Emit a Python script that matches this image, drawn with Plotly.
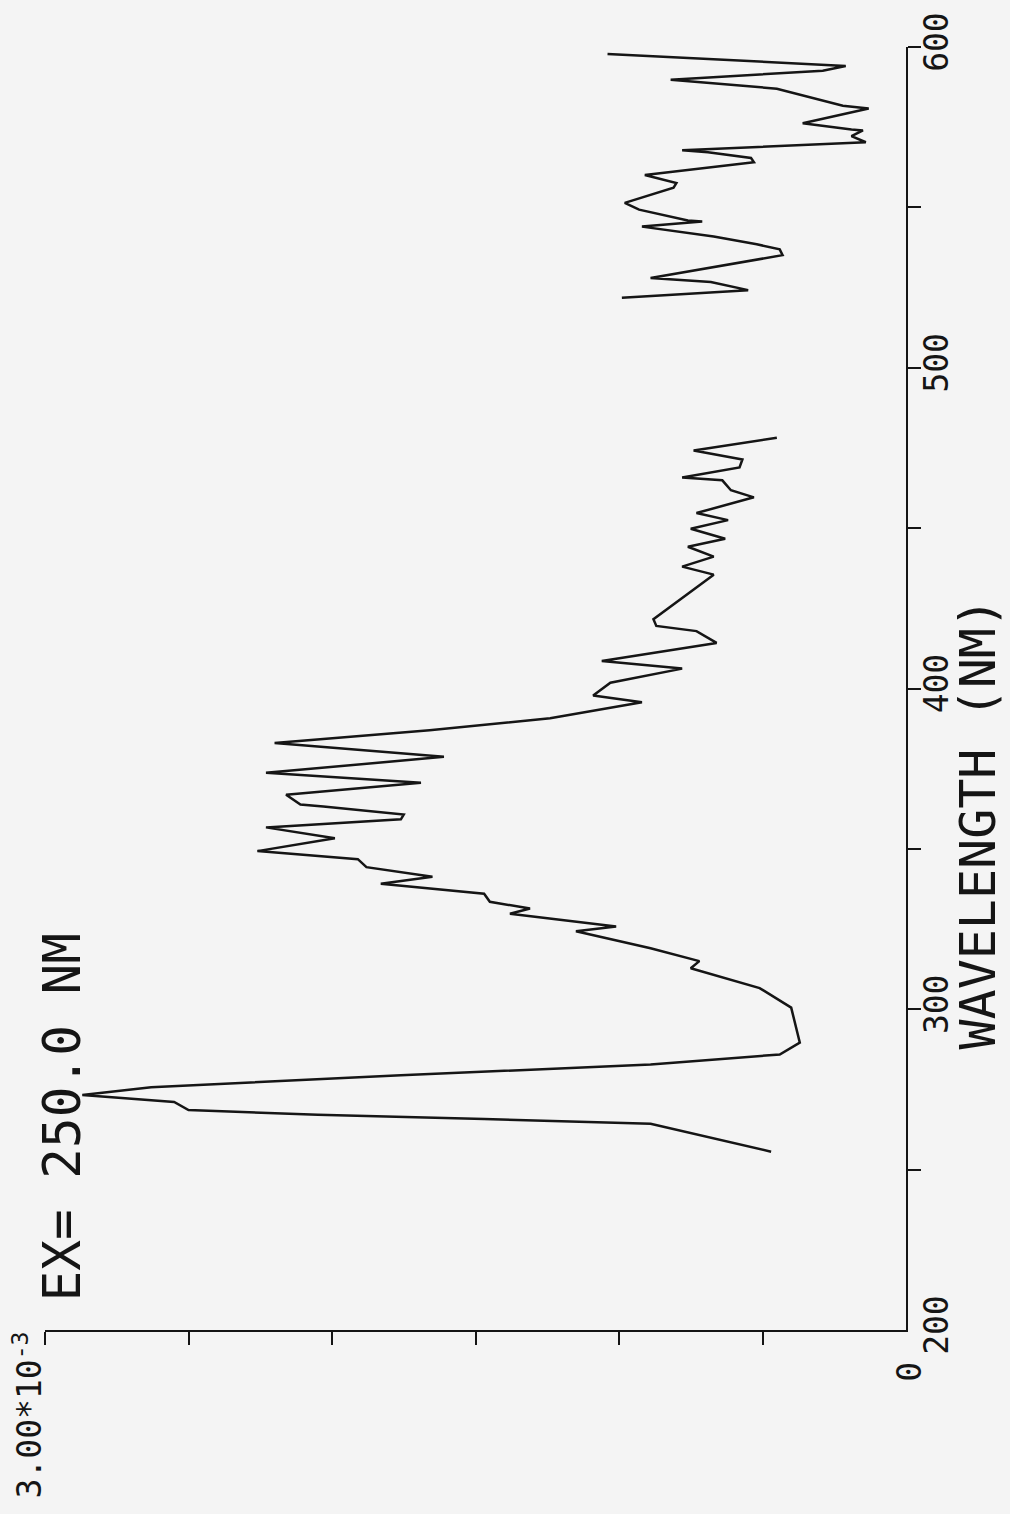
import plotly.graph_objects as go

# Emission spectrum (excitation 250 nm); intensity in units of 1e-3
wavelength_nm = [255.6, 264.3, 265.8, 267.1, 268.6, 271.1, 273.3, 275.7, 279.4, 282.8,
                 285.9, 289.6, 300.5, 306.6, 312.8, 315.0, 319.0, 324.3, 325.8, 329.8,
                 331.4, 333.5, 336.0, 339.1, 341.3, 344.3, 346.8, 349.3, 353.3, 356.7,
                 359.2, 360.7, 363.2, 363.8, 366.9, 370.6, 373.7, 378.7, 383.0, 387.0,
                 390.7, 395.7, 397.8, 401.8, 406.2, 408.6, 414.2, 417.9, 419.5, 421.6,
                 435.5, 438.0, 441.1, 444.2, 446.7, 449.8, 452.5, 454.7, 459.6, 461.8,
                 464.9, 465.8, 468.9, 471.4, 474.2, 478.2, 500.0,
                 521.8, 524.2, 526.7, 528.0, 535.1, 536.9, 538.5, 540.9, 544.0, 545.6,
                 545.9, 549.3, 551.4, 556.1, 557.6, 560.1, 564.1, 565.4, 567.2, 567.8,
                 570.3, 572.2, 574.0, 574.3, 576.2, 580.8, 581.7, 587.0, 589.8, 592.6,
                 594.1, 597.8]
intensity_e3 = [0.47, 0.89, 1.47, 2.05, 2.50, 2.55, 2.87, 2.63, 1.76, 0.89,
                0.44, 0.37, 0.40, 0.51, 0.75, 0.72, 0.89, 1.15, 1.01, 1.38,
                1.31, 1.45, 1.47, 1.83, 1.65, 1.88, 1.91, 2.26, 1.99, 2.23,
                1.76, 1.75, 2.03, 2.11, 2.16, 1.69, 2.23, 1.61, 2.20, 1.66,
                1.24, 0.92, 1.09, 1.03, 0.78, 1.06, 0.66, 0.73, 0.87, 0.88,
                0.67, 0.78, 0.67, 0.76, 0.63, 0.75, 0.62, 0.73, 0.53, 0.61,
                0.64, 0.78, 0.58, 0.57, 0.74, 0.45, None,
                0.99, 0.55, 0.68, 0.89, 0.43, 0.44, 0.52, 0.67, 0.92, 0.71,
                0.76, 0.93, 0.98, 0.81, 0.80, 0.91, 0.53, 0.54, 0.69, 0.78,
                0.14, 0.19, 0.15, 0.19, 0.36, 0.13, 0.22, 0.45, 0.82, 0.29,
                0.21, 1.04]

wl_ticks = [200, 300, 400, 500, 600]
wl_ticklabels = ["200", "300", "400", "500", "600"]
wl_minor = [250, 300, 350, 400, 450, 500, 550, 600]
int_minor = [0.5, 1.0, 1.5, 2.0, 2.5, 3.0]

W, H = 1010, 1514
L, R, T, B = 45, 104, 38, 184
PW, PH = W - L - R, H - T - B


def px(x, y):
    return (x - L) / PW, 1 - (y - T) / PH


FONT = "DejaVu Sans Mono, Liberation Mono, monospace"
INK = "#151515"
BG = "#f4f4f4"

fig = go.Figure()
fig.add_trace(go.Scatter(x=intensity_e3, y=wavelength_nm, mode="lines",
                         line=dict(color=INK, width=2.5), connectgaps=False,
                         showlegend=False))

fig.update_layout(
    width=W, height=H,
    margin=dict(l=L, r=R, t=T, b=B),
    paper_bgcolor=BG, plot_bgcolor=BG,
    font=dict(family=FONT, color=INK),
    xaxis=dict(range=[3.0, 0.0], showgrid=False, zeroline=False,
               showline=True, linecolor=INK, linewidth=2,
               tickvals=[], showticklabels=False,
               minor=dict(tickvals=int_minor, ticks="outside", ticklen=13,
                          tickwidth=2, tickcolor=INK, showgrid=False)),
    yaxis=dict(range=[200, 600], side="right", showgrid=False, zeroline=False,
               showline=True, linecolor=INK, linewidth=2,
               tickvals=wl_ticks, ticktext=wl_ticklabels, ticks="",
               tickangle=-90, tickfont=dict(size=33, family=FONT, color=INK),
               ticklabelstandoff=0,
               minor=dict(tickvals=wl_minor, ticks="outside", ticklen=13,
                          tickwidth=2, tickcolor=INK, showgrid=False)),
)

annots = [
    ("EX= 250.0 NM", 62, 1116, 51),
    ("3.00*10<sup>-3</sup>", 28, 1416, 33),
    ("0", 910, 1372, 33),
    ("WAVELENGTH (NM)", 978, 820, 50),
]
for text, x, y, size in annots:
    ax, ay = px(x, y)
    fig.add_annotation(text=text, x=ax, y=ay, xref="paper", yref="paper",
                       xanchor="center", yanchor="middle", showarrow=False,
                       textangle=-90, font=dict(size=size, family=FONT, color=INK))

fig.write_html("out.html",
               config={"displayModeBar": False},
               post_script="document.body.style.margin='0';"
                           "document.body.style.overflow='hidden';")
